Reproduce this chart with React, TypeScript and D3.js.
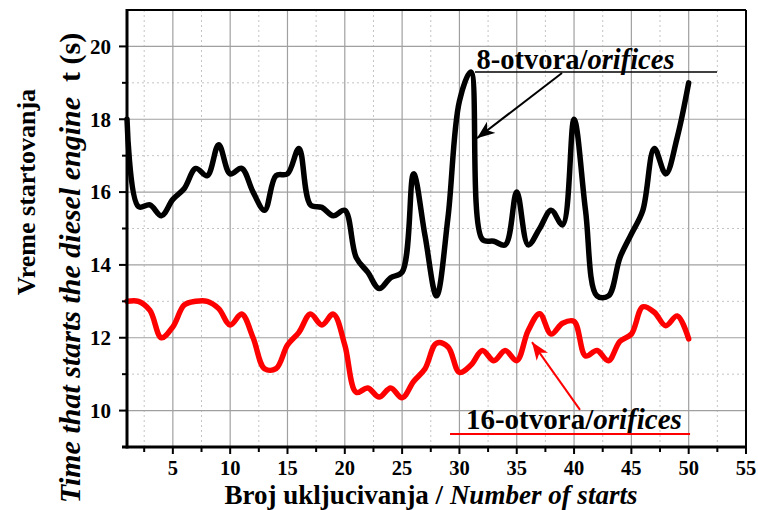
import React from "react";
import * as d3 from "d3";

// broj ukljucivanja (number of starts)
const starts = [
  1, 2, 3, 4, 5, 6, 7, 8, 9, 10, 11, 12, 13, 14, 15, 16, 17, 18, 19, 20,
  21, 22, 23, 24, 25, 26, 27, 28, 29, 30, 31, 32, 33, 34, 35, 36, 37, 38, 39, 40,
  41, 42, 43, 44, 45, 46, 47, 48, 49, 50,
];

// vreme startovanja t (s), 8 otvora
const orifices8 = [
  18.0, 15.6, 15.65, 15.35, 15.8, 16.1, 16.65, 16.45, 17.3, 16.5,
  16.65, 16.0, 15.5, 16.45, 16.5, 17.2, 15.65, 15.58, 15.35, 15.5,
  14.2, 13.8, 13.35, 13.65, 13.8, 16.5, 14.8, 13.15, 15.3, 18.5,
  19.3, 14.7, 14.65, 14.55, 16.0, 14.55, 15.0, 15.5, 15.1, 18.0,
  15.5, 13.15, 13.15, 14.2, 14.85, 15.5, 17.2, 16.5, 17.5, 19.0,
];

// vreme startovanja t (s), 16 otvora
const orifices16 = [
  13.0, 13.0, 12.75, 12.0, 12.3, 12.9, 13.0, 13.0, 12.8, 12.35,
  12.65, 12.0, 11.15, 11.15, 11.8, 12.15, 12.65, 12.35, 12.65, 11.8,
  10.5, 10.62, 10.37, 10.62, 10.35, 10.8, 11.15, 11.85, 11.75, 11.05,
  11.25, 11.65, 11.37, 11.65, 11.37, 12.2, 12.66, 12.1, 12.4, 12.45,
  11.5, 11.65, 11.37, 11.9, 12.1, 12.85, 12.7, 12.33, 12.6, 11.97,
];

const xTicks = [5, 10, 15, 20, 25, 30, 35, 40, 45, 50, 55];
const xMinor = [2.5, 7.5, 12.5, 17.5, 22.5, 27.5, 32.5, 37.5, 42.5, 47.5, 52.5];
const yTicks = [10, 12, 14, 16, 18, 20];
const yMinor = [11, 13, 15, 17, 19];

const W = 758;
const H = 510;
const m = { left: 127, right: 12, top: 10, bottom: 63 };
const serif = { fontFamily: '"Liberation Serif"' };

const App = () => {
  const x = d3.scaleLinear().domain([1, 55]).range([m.left, W - m.right]);
  const y = d3.scaleLinear().domain([9, 21]).range([H - m.bottom, m.top]);

  const line = d3
    .line<number>()
    .x((d, i) => x(starts[i]))
    .y(d => y(d))
    .curve(d3.curveCatmullRom.alpha(0.5));

  const x0 = x.range()[0];
  const x1 = x.range()[1];
  const y0 = y.range()[0];
  const y1 = y.range()[1];

  return (
    <svg
      width={W}
      height={H}
      style={{ position: "absolute", left: 0, top: 0, background: "#fff" }}
    >
      <defs>
        <marker id="headK" markerUnits="userSpaceOnUse" markerWidth="20" markerHeight="14"
          refX="18" refY="7" orient="auto">
          <path d="M0,0 L18,7 L0,14 L5,7 Z" fill="#000" />
        </marker>
        <marker id="headR" markerUnits="userSpaceOnUse" markerWidth="20" markerHeight="14"
          refX="18" refY="7" orient="auto">
          <path d="M0,0 L18,7 L0,14 L5,7 Z" fill="#ff0000" />
        </marker>
      </defs>

      {/* grid */}
      {xMinor.map(t => (
        <line key={"xm" + t} x1={x(t)} x2={x(t)} y1={y0} y2={y1}
          stroke="#c4c4c4" strokeWidth={1} strokeDasharray="2,3" />
      ))}
      {yMinor.map(t => (
        <line key={"ym" + t} x1={x0} x2={x1} y1={y(t)} y2={y(t)}
          stroke="#c4c4c4" strokeWidth={1} strokeDasharray="2,3" />
      ))}
      {xTicks.map(t => (
        <line key={"xg" + t} x1={x(t)} x2={x(t)} y1={y0} y2={y1}
          stroke="#a0a0a0" strokeWidth={1.2} />
      ))}
      {yTicks.map(t => (
        <line key={"yg" + t} x1={x0} x2={x1} y1={y(t)} y2={y(t)}
          stroke="#a0a0a0" strokeWidth={1.2} />
      ))}

      {/* series */}
      <path d={line(orifices8) || ""} fill="none" stroke="#000" strokeWidth={5.5}
        strokeLinejoin="round" strokeLinecap="round" />
      <path d={line(orifices16) || ""} fill="none" stroke="#ff0000" strokeWidth={5.5}
        strokeLinejoin="round" strokeLinecap="round" />

      {/* frame */}
      <line x1={x0} x2={x1} y1={y1} y2={y1} stroke="#000" strokeWidth={2} />
      <line x1={x1} x2={x1} y1={y1} y2={y0} stroke="#000" strokeWidth={2} />
      <line x1={x0} x2={x0} y1={y1 - 1} y2={y0 + 1.5} stroke="#000" strokeWidth={3} />
      <line x1={x0 - 5} x2={x1 + 1} y1={y0} y2={y0} stroke="#000" strokeWidth={3} />

      {/* x axis ticks */}
      {xTicks.map(t => (
        <g key={"xt" + t}>
          <line x1={x(t)} x2={x(t)} y1={y0} y2={y0 + 7} stroke="#000" strokeWidth={2} />
          <text x={x(t)} y={y0 + 28} textAnchor="middle" fontSize={20.5} fontWeight="bold" style={serif}>
            {t}
          </text>
        </g>
      ))}
      {xMinor.map(t => (
        <line key={"xmt" + t} x1={x(t)} x2={x(t)} y1={y0} y2={y0 + 5} stroke="#000" strokeWidth={2} />
      ))}

      {/* y axis ticks */}
      {yTicks.map(t => (
        <g key={"yt" + t}>
          <line x1={x0 - 8} x2={x0} y1={y(t)} y2={y(t)} stroke="#000" strokeWidth={2} />
          <text x={x0 - 16} y={y(t)} dy="0.35em" textAnchor="end" fontSize={21} fontWeight="bold" style={serif}>
            {t}
          </text>
        </g>
      ))}
      {yMinor.map(t => (
        <line key={"ymt" + t} x1={x0 - 5} x2={x0} y1={y(t)} y2={y(t)} stroke="#000" strokeWidth={2} />
      ))}

      {/* axis titles */}
      <text x={431} y={504} textAnchor="middle" fontSize={27} fontWeight="bold" style={serif}>
        Broj ukljucivanja / <tspan fontStyle="italic">Number of starts</tspan>
      </text>
      <text transform="translate(35,192) rotate(-90)" textAnchor="middle" fontSize={26} fontWeight="bold" style={serif}>
        Vreme startovanja
      </text>
      <text transform="translate(80,268) rotate(-90)" textAnchor="middle" fontSize={30} fontWeight="bold" style={serif}>
        <tspan fontStyle="italic">Time that starts the diesel engine</tspan>{"\u00a0\u00a0t (s)"}
      </text>

      {/* annotations */}
      <text x={x(31.5)} y={y(19.38)} fontSize={28.5} fontWeight="bold" style={serif}>
        8-otvora/<tspan fontStyle="italic">orifices</tspan>
      </text>
      <line x1={x(31.36)} x2={x(52.47)} y1={y(19.3)} y2={y(19.3)} stroke="#000" strokeWidth={1.5} />
      <line x1={x(38.95)} y1={y(19.27)} x2={x(31.53)} y2={y(17.48)} stroke="#000" strokeWidth={2}
        markerEnd="url(#headK)" />

      <text x={x(30.57)} y={y(9.49)} fontSize={29} fontWeight="bold" style={serif}>
        16-otvora/<tspan fontStyle="italic">orifices</tspan>
      </text>
      <line x1={x(29.18)} x2={x(50.12)} y1={y(9.36)} y2={y(9.36)} stroke="#ff0000" strokeWidth={2} />
      <line x1={x(40.52)} y1={y(10.02)} x2={x(36.33)} y2={y(11.88)} stroke="#ff0000" strokeWidth={2}
        markerEnd="url(#headR)" />
    </svg>
  );
};

export default App;
